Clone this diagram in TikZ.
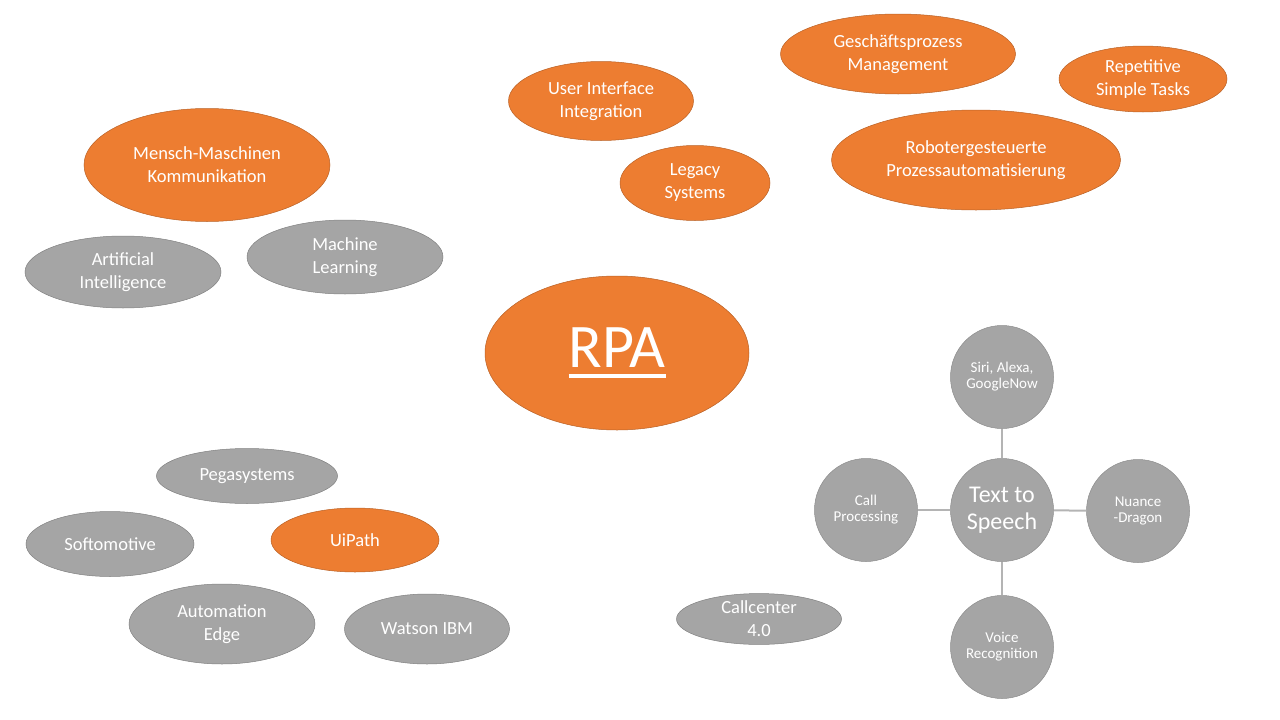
\documentclass[tikz,border=0pt]{standalone}
\usepackage{fontspec}
\setmainfont{Carlito}
\usepackage{tikz}
\usetikzlibrary{shapes.geometric}
\usepackage{xcolor}
\definecolor{Tangerine}{HTML}{ED7D31}
\definecolor{Ash}{HTML}{A5A5A5}
\definecolor{Spoke}{HTML}{B4B4B4}
\newcommand\rpaline[1]{\setbox0=\hbox{#1}\rlap{\rule[-10pt]{\wd0}{4pt}}\box0}
\tikzset{
  bubble/.style={ellipse, draw=#1!78!black, line width=0.5pt, fill=#1,
    text=white, align=center, inner sep=0pt,
    font=\fontsize{18.5}{23}\selectfont},
  bubble/.default={Tangerine},
  orb/.style={circle, draw=Ash!85!black, line width=0.5pt, fill=Ash,
    text=white, align=center, inner sep=0pt, minimum size=103pt,
    font=\fontsize{15}{16}\selectfont},
  spoke/.style={draw=Spoke, line width=2pt},
}

\begin{document}
\begin{tikzpicture}[x=1pt, y=-1pt]
  \useasboundingbox (0,0) rectangle (1280,720);
  % centre
  \node[bubble, minimum width=264pt, minimum height=154pt,
    font=\fontsize{62}{70}\selectfont] (rpa) at (617,353) {\rpaline{RPA}};
  % top left
  \node[bubble, minimum width=246pt, minimum height=113pt] (mmk) at (207,165)
    {Mensch-Maschinen\\Kommunikation};
  \node[bubble=Ash, minimum width=196pt, minimum height=72pt] (ai) at (123,272)
    {Artificial\\Intelligence};
  \node[bubble=Ash, minimum width=196pt, minimum height=74pt] (ml) at (345,257)
    {Machine\\Learning};
  % top right
  \node[bubble, minimum width=185pt, minimum height=79pt] (uii) at (601,101)
    {User Interface\\Integration};
  \node[bubble, minimum width=150pt, minimum height=75pt] (legacy) at (695,183)
    {Legacy\\Systems};
  \node[bubble, minimum width=235pt, minimum height=80pt] (gpm) at (898,54)
    {Gesch\"aftsprozess\\Management};
  \node[bubble, minimum width=168pt, minimum height=66pt] (rst) at (1143,79)
    {Repetitive\\Simple Tasks};
  \node[bubble, minimum width=289pt, minimum height=100pt] (rpz) at (976,160)
    {Robotergesteuerte\\Prozessautomatisierung};
  % bottom left
  \node[bubble=Ash, minimum width=181pt, minimum height=55pt] (pega) at (247,476)
    {Pegasystems};
  \node[bubble=Ash, minimum width=168pt, minimum height=65pt] (softo) at (110,544)
    {Softomotive};
  \node[bubble, minimum width=168pt, minimum height=64pt] (uipath) at (355,540)
    {UiPath};
  \node[bubble=Ash, minimum width=186pt, minimum height=80pt] (autoedge) at (222,624)
    {Automation\\Edge};
  \node[bubble=Ash, minimum width=165pt, minimum height=70pt] (watson) at (427,629)
    {Watson IBM};
  % bottom right
  \node[bubble=Ash, minimum width=165pt, minimum height=50pt] (callc) at (759,619)
    {Callcenter\\4.0};
  \node[orb, font=\fontsize{24}{27}\selectfont] (tts) at (1002,510) {Text to\\Speech};
  \node[orb] (siri) at (1002,377) {Siri, Alexa,\\GoogleNow};
  \node[orb] (callp) at (866,510) {Call\\Processing};
  \node[orb] (nuance) at (1138,511) {Nuance\\-Dragon};
  \node[orb] (voice) at (1002,647) {Voice\\Recognition};
  \draw[spoke] (tts) -- (siri);
  \draw[spoke] (tts) -- (callp);
  \draw[spoke] (tts) -- (nuance);
  \draw[spoke] (tts) -- (voice);
\end{tikzpicture}
\end{document}
